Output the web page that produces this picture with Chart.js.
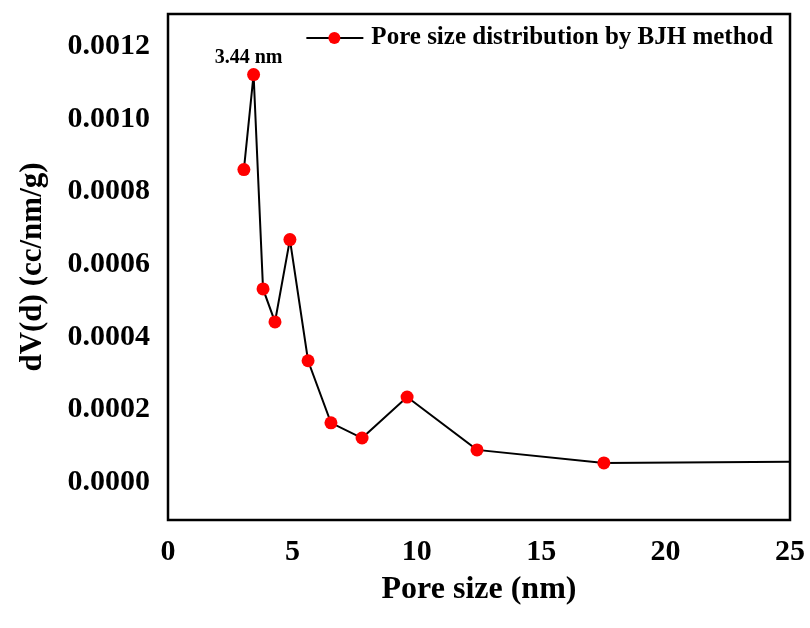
<!DOCTYPE html>
<html>
<head>
<meta charset="utf-8">
<script src="https://cdn.jsdelivr.net/npm/chart.js@4"></script>
<style>
  body { margin: 0; background: #ffffff; }
  #wrap { width: 810px; height: 628px; }
</style>
</head>
<body>
<div id="wrap"><canvas id="pore-graph"></canvas></div>
<script>
// BJH pore size distribution
const poreSizes = [3.05, 3.44, 3.82, 4.30, 4.90, 5.63, 6.55, 7.80, 9.61, 12.42, 17.52, 26.0];
const dVd = [0.000861, 0.001123, 0.000532, 0.000441, 0.000668, 0.000334, 0.000163, 0.000121, 0.000234, 0.0000883, 0.0000524, 0.0000560];
const markerRadius = [6.5, 6.5, 6.5, 6.5, 6.5, 6.5, 6.5, 6.5, 6.5, 6.5, 6.5, 0];
const peakLabel = "3.44 nm";
const peakSize = 3.44;
const peakValue = 0.001123;
const legendText = "Pore size distribution by BJH method";

const serif = "'Liberation Serif', 'Times New Roman', serif";

const points = poreSizes.map((x, i) => ({ x: x, y: dVd[i] }));

// frame, legend inside plot, peak annotation
const extras = {
    id: "extras",
    afterDraw(chart) {
        const ctx = chart.ctx;
        const area = chart.chartArea;
        ctx.save();

        ctx.strokeStyle = "#000";
        ctx.lineWidth = 2.5;
        ctx.strokeRect(area.left, area.top, area.right - area.left, area.bottom - area.top);

        ctx.font = "bold 25px " + serif;
        ctx.fillStyle = "#000";
        ctx.textBaseline = "middle";
        const textW = ctx.measureText(legendText).width;
        const textX = area.right - 17 - textW;
        const legY = area.top + 24;
        ctx.fillText(legendText, textX, legY);
        ctx.beginPath();
        ctx.moveTo(textX - 65, legY);
        ctx.lineTo(textX - 8, legY);
        ctx.lineWidth = 2;
        ctx.stroke();
        ctx.beginPath();
        ctx.arc(textX - 37, legY, 6, 0, Math.PI * 2);
        ctx.fillStyle = "#ff0000";
        ctx.fill();

        const px = chart.scales.x.getPixelForValue(peakSize);
        const py = chart.scales.y.getPixelForValue(peakValue);
        ctx.font = "bold 20px " + serif;
        ctx.fillStyle = "#000";
        ctx.textAlign = "center";
        ctx.fillText(peakLabel, px - 5, py - 17);
        ctx.restore();
    },
};

new Chart(document.getElementById("pore-graph"), {
    type: "line",
    data: {
        datasets: [
            {
                label: legendText,
                data: points,
                borderColor: "#000000",
                borderWidth: 2,
                pointRadius: markerRadius,
                pointHoverRadius: markerRadius,
                pointBackgroundColor: "#ff0000",
                pointBorderColor: "#ff0000",
                pointBorderWidth: 0,
                tension: 0,
            },
        ],
    },
    options: {
        responsive: true,
        maintainAspectRatio: false,
        animation: false,
        layout: { padding: { top: 14, right: 20, bottom: 0, left: 0 } },
        plugins: {
            legend: { display: false },
            tooltip: { enabled: false },
        },
        scales: {
            x: {
                type: "linear",
                min: 0,
                max: 25,
                grid: { display: false, drawTicks: false },
                border: { display: false },
                ticks: {
                    stepSize: 5,
                    padding: 14,
                    color: "#000",
                    font: { family: serif, size: 30, weight: "bold" },
                },
                title: {
                    display: true,
                    text: "Pore size (nm)",
                    color: "#000",
                    font: { family: serif, size: 32, weight: "bold" },
                    padding: { top: 0, bottom: 19 },
                },
                afterFit(scale) {
                    scale.height = 108;
                    scale.paddingLeft = 0;
                    scale.paddingRight = 0;
                },
            },
            y: {
                type: "linear",
                min: -0.000105,
                max: 0.00129,
                grid: { display: false, drawTicks: false },
                border: { display: false },
                ticks: {
                    stepSize: 0.0002,
                    includeBounds: false,
                    padding: 18,
                    color: "#000",
                    font: { family: serif, size: 30, weight: "bold" },
                    callback: (value) => (Math.abs(value) < 1e-12 ? 0 : value).toFixed(4),
                },
                title: {
                    display: true,
                    text: "dV(d) (cc/nm/g)",
                    color: "#000",
                    font: { family: serif, size: 31, weight: "bold" },
                    padding: { top: 14, bottom: 0 },
                },
                afterFit(scale) {
                    scale.width = 168;
                    scale.paddingTop = 0;
                    scale.paddingBottom = 0;
                },
            },
        },
    },
    plugins: [extras],
});
</script>
</body>
</html>
